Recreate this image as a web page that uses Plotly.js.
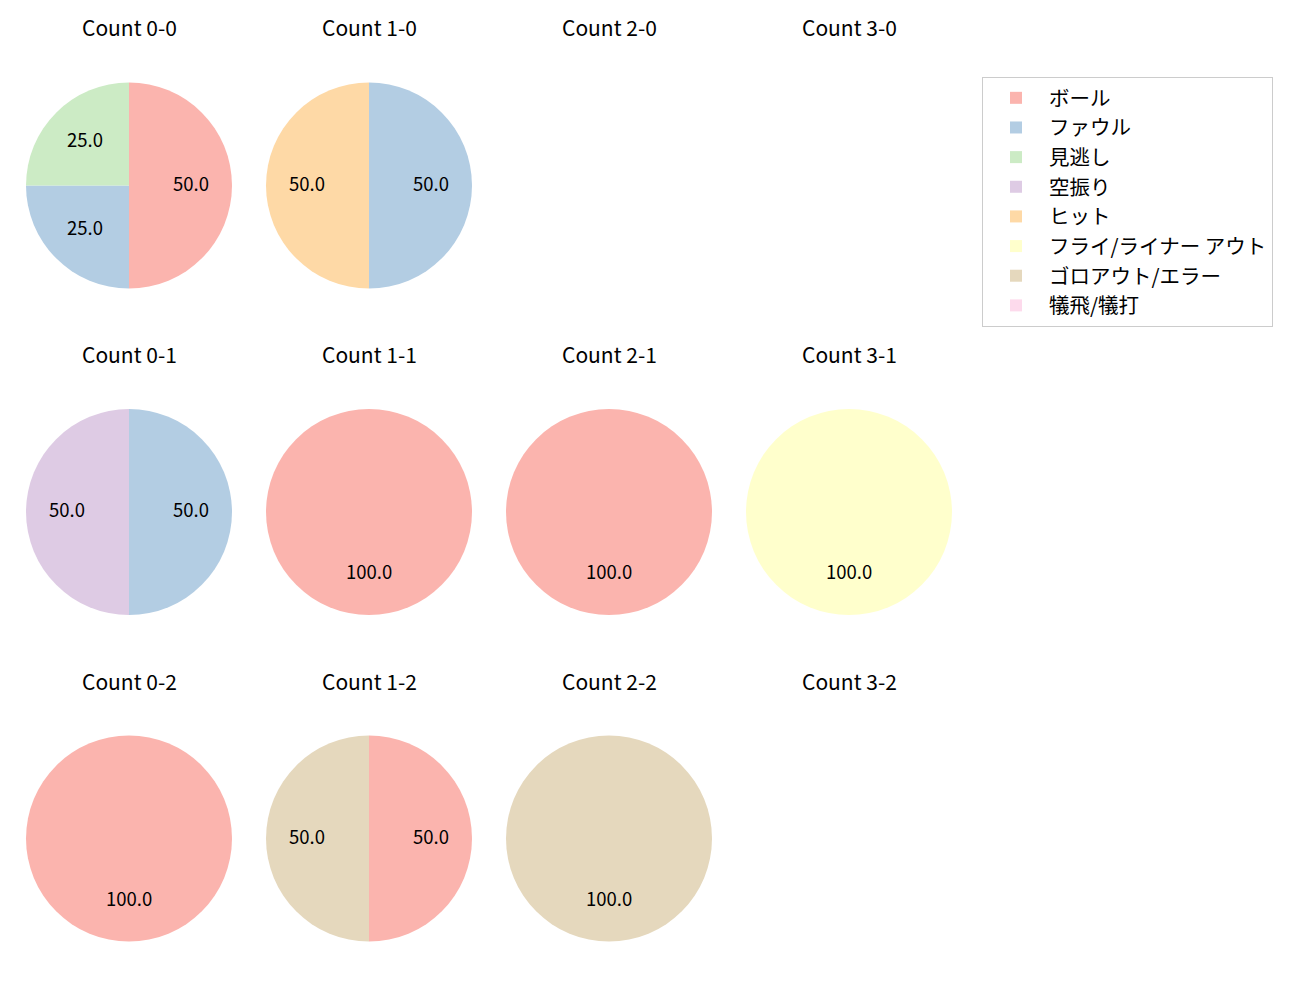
<!DOCTYPE html>
<html>
<head>
<meta charset="utf-8">
<script src="https://cdn.plot.ly/plotly-3.0.1.min.js"></script>
<style>html,body{margin:0;padding:0;background:#fff;}</style>
</head>
<body>
<div id="chart" style="width:1300px;height:1000px;"></div>
<script>
const labels = ["ボール", "ファウル", "見逃し", "空振り", "ヒット", "フライ/ライナー アウト", "ゴロアウト/エラー", "犠飛/犠打"];
const colors = ["#fbb4ae", "#b3cde3", "#ccebc5", "#decbe4", "#fed9a6", "#ffffcc", "#e5d8bd", "#fddaec"];
const balls = [0, 1, 2, 3];
const strikes = [0, 1, 2];
// values per count "balls-strikes" (percent), order follows labels
const count_0_0 = [50, 25, 25, 0, 0, 0, 0, 0];
const count_1_0 = [0, 50, 0, 0, 50, 0, 0, 0];
const count_2_0 = null;
const count_3_0 = null;
const count_0_1 = [0, 50, 0, 50, 0, 0, 0, 0];
const count_1_1 = [100, 0, 0, 0, 0, 0, 0, 0];
const count_2_1 = [100, 0, 0, 0, 0, 0, 0, 0];
const count_3_1 = [0, 0, 0, 0, 0, 100, 0, 0];
const count_0_2 = [100, 0, 0, 0, 0, 0, 0, 0];
const count_1_2 = [50, 0, 0, 0, 0, 0, 50, 0];
const count_2_2 = [0, 0, 0, 0, 0, 0, 100, 0];
const count_3_2 = null;
const counts = {
  "0-0": count_0_0, "1-0": count_1_0, "2-0": count_2_0, "3-0": count_3_0,
  "0-1": count_0_1, "1-1": count_1_1, "2-1": count_2_1, "3-1": count_3_1,
  "0-2": count_0_2, "1-2": count_1_2, "2-2": count_2_2, "3-2": count_3_2
};

const W = 1300, H = 1000;
const colX = [129, 369, 609, 849];
const rowY = [185.5, 512, 838.5];
const R = 103;
const FONT = "Noto Sans CJK JP, Noto Sans, sans-serif";

const traces = [];
const annotations = [];
strikes.forEach((s, ri) => {
  balls.forEach((b, ci) => {
    const key = b + "-" + s;
    const cx = colX[ci], cy = rowY[ri];
    annotations.push({
      text: "Count " + key, xref: "paper", yref: "paper",
      x: cx / W, y: 1 - (cy - 158) / H, xanchor: "center", yanchor: "middle",
      showarrow: false, font: {family: FONT, size: 21, color: "#000"}
    });
    const vals = counts[key];
    if (!vals) return;
    traces.push({
      type: "pie", labels: labels, values: vals, sort: false,
      direction: "clockwise", rotation: 0,
      marker: {colors: colors, line: {color: "#ffffff", width: 0}},
      textinfo: "none", hoverinfo: "label+percent",
      domain: {x: [(cx - R) / W, (cx + R) / W], y: [1 - (cy + R) / H, 1 - (cy - R) / H]},
      showlegend: true
    });
    const total = vals.reduce((a, v) => a + v, 0);
    let cum = 0;
    vals.forEach((v) => {
      if (v <= 0) return;
      const mid = (cum + v / 2) / total;
      cum += v;
      const th = 2 * Math.PI * mid;
      const px = cx + 0.6 * R * Math.sin(th);
      const py = cy - 0.6 * R * Math.cos(th) - 2.5;
      annotations.push({
        text: (100 * v / total).toFixed(1), xref: "paper", yref: "paper",
        x: px / W, y: 1 - py / H, xanchor: "center", yanchor: "middle",
        showarrow: false, font: {family: FONT, size: 18.5, color: "#000"}
      });
    });
  });
});

const layout = {
  width: W, height: H,
  margin: {l: 0, r: 0, t: 0, b: 0},
  paper_bgcolor: "#fff",
  showlegend: true,
  legend: {
    x: 982 / W, y: 1 - 77 / H, xanchor: "left", yanchor: "top",
    bordercolor: "#cccccc", borderwidth: 1, bgcolor: "#fff",
    font: {family: FONT, size: 20.5, color: "#000"},
    itemwidth: 56,
    traceorder: "normal", tracegroupgap: 0
  },
  annotations: annotations
};
Plotly.newPlot("chart", traces, layout, {displayModeBar: false});
</script>
</body>
</html>
